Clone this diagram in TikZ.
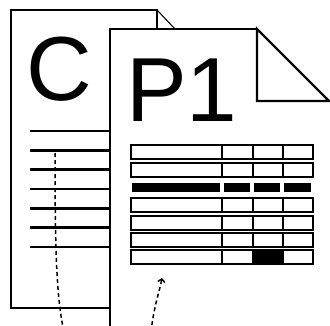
\documentclass[tikz,border=0pt]{standalone}
\usepackage{fontspec}
\setmainfont{Liberation Sans}
\usetikzlibrary{arrows.meta}
\begin{document}
\begin{tikzpicture}[x=1pt,y=-1pt, line join=miter,
  backpage/.style={draw=black, line width=1.1pt},
  frontpage/.style={draw=black, line width=2.2pt},
  textline/.style={draw=black, line width=2.6pt},
  cellrow/.style={draw=black, line width=2pt},
  flow/.style={draw=black, line width=1.5pt, dash pattern=on 4pt off 3pt},
  bigtext/.style={inner sep=0pt, anchor=base west, font=\fontsize{91}{91}\selectfont}]
\useasboundingbox (0,0) rectangle (330,325);
% back page C
\draw[backpage] (157,29) -- (157,10) -- (11,10) -- (11,308) -- (110,308);
\draw[backpage] (157,10) -- (175,29);
\node[bigtext] (ctext) at (26,100) {C};
\foreach \y in {131,150.3,169.6,189,208.3,227.6,247}
  \draw[textline] (30,\y) -- (110,\y);
\coordinate (cstart) at (55,153);
\coordinate (cend) at (64,332);
\draw[flow] (cstart) .. controls (55,260) and (57,300) .. (cend);
% front page P1
\fill[white] (110,29) -- (257,29) -- (330,102) -- (330,330) -- (110,330) -- cycle;
\draw[frontpage] (110,330) -- (110,29) -- (257,29);
\draw[frontpage] (257,29) -- (329,101) -- (257,101) -- cycle;
\node[bigtext] (ptext) at (126,121) {P1};
% table
\foreach \y in {145,163,198,216,233,250} {
  \draw[cellrow] (131,\y) rectangle (313,\y+14);
  \foreach \x in {222,253,283} \draw[cellrow] (\x,\y) -- (\x,\y+14);
}
\fill[black] (253,250) rectangle (283,264);
\draw[cellrow] (253,250) rectangle (283,264);
\foreach \a/\b in {132/220,224/250,254/280,284/311}
  \fill[black] (\a,183) rectangle (\b,192);
\coordinate (pstart) at (151,332);
\coordinate (pend) at (162,278);
\draw[flow, -{Straight Barb[length=3pt,width=7pt,line width=1.5pt]}] (pstart) .. controls (154,305) and (160,290) .. (pend);
\end{tikzpicture}
\end{document}
